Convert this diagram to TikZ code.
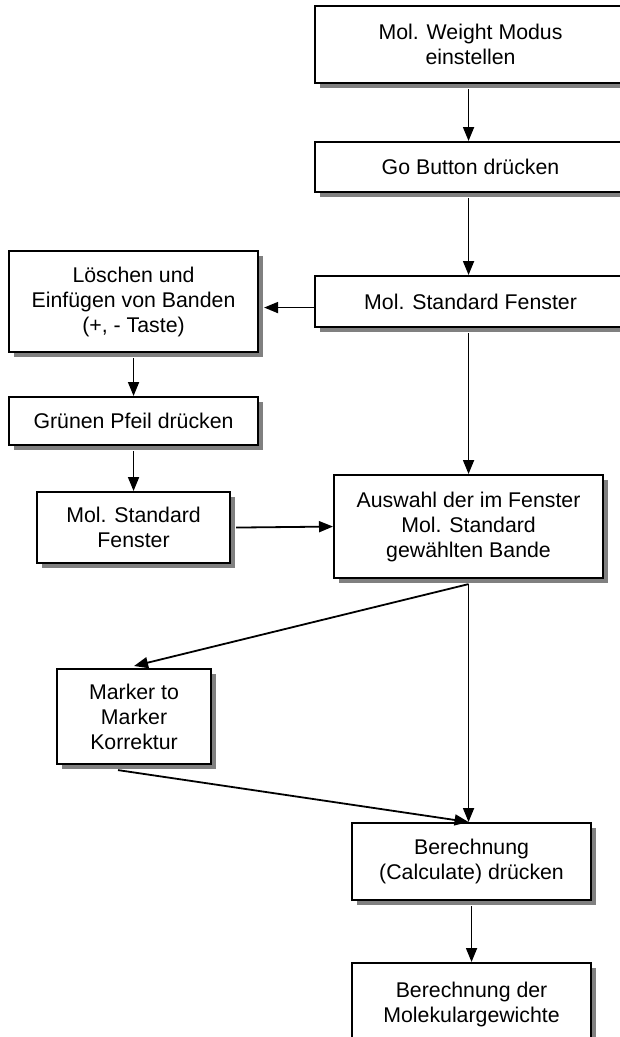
\documentclass[tikz,border=0pt]{standalone}
\usepackage{fontspec}
\setmainfont{Liberation Sans}
\usetikzlibrary{arrows.meta,shadows}
\begin{document}
\begin{tikzpicture}[x=1pt,y=-1pt,
  box/.style={draw, line width=2.1pt, fill=white, align=center, inner sep=0pt,
    anchor=north west, font=\fontsize{21.3}{25}\selectfont,
    drop shadow={shadow xshift=5pt, shadow yshift=-5pt, fill=black!50, opacity=1}},
  arr/.style={line width=1.8pt, -{Triangle[length=14pt,width=11pt]}}]
\useasboundingbox (0,0) rectangle (620,1037);
\clip (0,0) rectangle (620,1037);
% process boxes
\node[box, minimum width=311, minimum height=77] (b1) at (314,5) {Mol. Weight Modus\\einstellen};
\node[box, minimum width=311, minimum height=50] (b2) at (314,141) {Go Button drücken};
\node[box, minimum width=311, minimum height=51] (b3) at (314,275) {Mol. Standard Fenster};
\node[box, minimum width=249, minimum height=101] (b4) at (8,250) {Löschen und\\Einfügen von Banden\\(+, - Taste)};
\node[box, minimum width=249, minimum height=48] (b5) at (8,396) {Grünen Pfeil drücken};
\node[box, minimum width=193, minimum height=71] (b6) at (36,491) {Mol. Standard\\Fenster};
\node[box, minimum width=269, minimum height=103] (b7) at (333,474) {Auswahl der im Fenster\\Mol. Standard\\gewählten Bande};
\node[box, minimum width=154, minimum height=95] (b8) at (56,668) {Marker to\\Marker\\Korrektur};
\node[box, minimum width=239, minimum height=77] (b9) at (351,822) {Berechnung\\(Calculate) drücken};
\node[box, minimum width=239, minimum height=98, text depth=20pt] (b10) at (351,962) {Berechnung der\\Molekulargewichte};
% connectors
\draw[arr] ([yshift=-5pt]b1.south -| b7.north) -- (b2.north -| b7.north);
\draw[arr] ([yshift=-5pt]b2.south -| b7.north) -- (b3.north -| b7.north);
\draw[arr] ([yshift=-5pt]b3.south -| b7.north) -- (b7.north);
\draw[arr] ([yshift=-6pt]b3.west) -- ([xshift=5pt,yshift=-6pt]b4.east);
\draw[arr] ([yshift=-5pt]b4.south) -- (b5.north);
\draw[arr] ([yshift=-5pt]b5.south) -- (b6.north);
\draw[arr] ([xshift=5pt]b6.east) -- (b7.west);
\draw[arr] ([yshift=-5pt]b7.south) -- ([yshift=2pt]b8.north);
\draw[arr] ([yshift=-5pt]b7.south) -- (b7.south |- b9.north);
\draw[arr] ([xshift=-16pt,yshift=-5pt]b8.south) -- (b7.south |- b9.north);
\draw[arr] ([yshift=-5pt]b9.south -| b10.north) -- (b10.north);
\end{tikzpicture}
\end{document}
